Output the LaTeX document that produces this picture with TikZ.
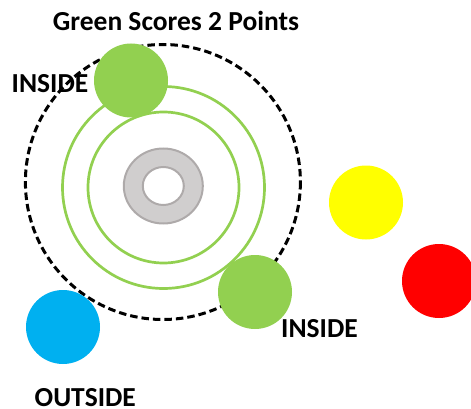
\documentclass[tikz,border=0pt]{standalone}
\usepackage{fontspec}
\setmainfont{Carlito}
\definecolor{ggreen}{HTML}{92D050}
\definecolor{bblue}{HTML}{00B0F0}
\definecolor{dgray}{HTML}{D0CECE}
\definecolor{sgray}{HTML}{AEAAAA}
\definecolor{yyellow}{HTML}{FFFF00}
\tikzset{
  lbl/.style={font=\fontsize{27.5}{30}\selectfont\bfseries, inner sep=0pt, anchor=base west},
  ring/.style={draw=ggreen, line width=2.7pt},
  ball/.style={circle, minimum size=74pt, inner sep=0pt},
}
\begin{document}
\begin{tikzpicture}[x=1pt,y=-1pt]
\useasboundingbox (0,0) rectangle (471,409);
\node[lbl, anchor=base] (title) at (176,30.5) {Green Scores 2 Points};
\node[lbl] (in1) at (11.5,93) {INSIDE};
\node[lbl] (in2) at (281,337.3) {INSIDE};
\node[lbl] (out) at (34.5,406) {OUTSIDE};
\coordinate (c) at (163.5,187.5);
\draw[ring] (c) circle[radius=101];
\draw[ring] (c) circle[radius=75.5];
\draw[draw=sgray, fill=dgray, line width=2pt, even odd rule] (163.3,186) ellipse[x radius=39.5, y radius=37.5] (163.3,186) ellipse[x radius=20.5, y radius=19];
\draw[black, line width=3pt, dash pattern=on 7.5pt off 4pt] (162.9,182) circle[radius=137.5];
\node[ball, fill=ggreen] (g1) at (131,80.5) {};
\node[ball, fill=ggreen] (g2) at (255,292) {};
\node[ball, fill=yyellow] (y) at (366,202.5) {};
\node[ball, fill=red] (r) at (439,281) {};
\node[ball, fill=bblue] (b) at (63,327) {};
\end{tikzpicture}
\end{document}
